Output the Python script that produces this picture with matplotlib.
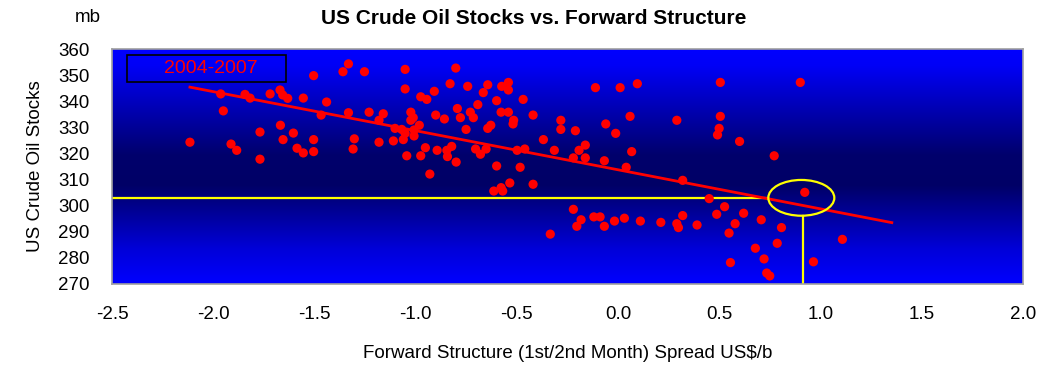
import matplotlib.pyplot as plt
import numpy as np
from matplotlib.colors import LinearSegmentedColormap
from matplotlib.patches import Ellipse, Rectangle

plt.rcParams["font.family"] = ["Liberation Sans", "DejaVu Sans"]

# Weekly observations: spread (US$/b) vs crude stocks (mb)
spread = [
    -2.115, -1.963, -1.95, -1.912, -1.884, -1.843, -1.818, -1.769, -1.769, -1.719,
    -1.67, -1.657, -1.632, -1.668, -1.655, -1.604, -1.586, -1.555, -1.555, -1.504,
    -1.504, -1.504, -1.44, -1.467, -1.359, -1.332, -1.332, -1.303, -1.309, -1.253,
    -1.23, -1.16, -1.181, -1.181, -1.11, -1.102,
    -1.052, -1.052, -1.024, -1.012, -1.024, -0.982, -1.069, -1.052, -1.008, -1.008,
    -1.061, -1.044, -0.975, -0.952, -0.93, -0.975, -0.945, -0.908, -0.901, -0.894,
    -0.858, -0.846, -0.843, -0.822, -0.8, -0.83, -0.802, -0.794, -0.779, -0.751,
    -0.743, -0.73, -0.715, -0.693, -0.666, -0.644, -0.704, -0.68, -0.652, -0.644,
    -0.629, -0.6, -0.578, -0.575, -0.542, -0.542, -0.542, -0.516, -0.519, -0.469,
    -0.42, -0.6, -0.614, -0.578, -0.57, -0.535, -0.499, -0.461, -0.484, -0.42,
    -0.369, -0.315, -0.283, -0.283, -0.211, -0.193, -0.162, -0.221, -0.162, -0.112,
    -0.061, -0.012, -0.068, 0.01, 0.059, 0.067, 0.04, 0.095, 0.29, 0.319,
    -0.335, -0.221, -0.183, -0.204, -0.12, -0.089, -0.068, -0.018, 0.031, 0.11,
    0.211, 0.29, 0.298, 0.319, 0.39, 0.45, 0.487,
    0.505, 0.9, 0.505, 0.499, 0.491, 0.6, 0.771, 0.922, 0.526, 0.62,
    0.578, 0.707, 0.807, 0.548, 0.786, 0.678, 0.721, 0.555, 0.734, 0.749,
    0.965, 1.108,
]
stocks = [
    324.3, 342.8, 336.3, 323.6, 321.2, 342.6, 341.2, 328.2, 317.8, 342.8,
    344.3, 342.4, 341.1, 330.8, 325.3, 327.8, 322.0, 320.2, 341.2, 349.8,
    325.3, 320.7, 339.7, 334.7, 351.3, 354.3, 335.6, 325.6, 321.7, 351.3,
    335.8, 335.2, 332.7, 324.3, 324.8, 329.6,
    352.2, 344.7, 335.8, 333.7, 332.7, 330.8, 329.2, 327.7, 326.7, 329.0,
    325.3, 319.1, 319.1, 322.2, 312.1, 341.7, 340.7, 343.8, 334.7, 321.2,
    333.2, 321.2, 318.8, 322.7, 316.7, 346.7, 352.7, 337.2, 333.7, 329.2,
    345.7, 335.8, 333.7, 338.7, 343.3, 346.3, 321.7, 319.7, 321.7, 329.6,
    330.8, 340.2, 335.8, 345.7, 347.2, 344.3, 335.8, 332.7, 331.3, 340.7,
    334.7, 315.2, 305.6, 306.9, 305.6, 308.7, 321.2, 321.7, 314.7, 308.2,
    325.3, 321.2, 332.7, 329.2, 328.7, 321.2, 323.2, 318.3, 318.3, 345.2,
    331.3, 327.7, 317.2, 345.2, 334.2, 320.7, 314.7, 346.7, 332.7, 309.7,
    289.1, 298.6, 294.6, 292.1, 295.7, 295.7, 292.1, 294.1, 295.2, 294.1,
    293.6, 293.1, 291.6, 296.2, 292.6, 302.7, 296.7,
    347.2, 347.2, 334.2, 329.6, 327.1, 324.6, 319.1, 305.1, 299.6, 297.1,
    293.1, 294.6, 291.6, 289.5, 285.6, 283.7, 279.6, 278.2, 274.2, 273.1,
    278.5, 287.1,
]

# Linear trend end points
trend_x = [-2.115, 1.352]
trend_y = [345.4, 293.5]

# Current level marker
now_x = 0.905
now_y = 303.0

x_ticks = [-2.5, -2.0, -1.5, -1.0, -0.5, 0.0, 0.5, 1.0, 1.5, 2.0]
y_ticks = [270, 280, 290, 300, 310, 320, 330, 340, 350, 360]

fig = plt.figure(figsize=(10.53, 3.72), dpi=100)
ax = fig.add_axes([112 / 1053, 1 - 284 / 372, 911 / 1053, 235 / 372])
ax.set_xlim(-2.5, 2.0)
ax.set_ylim(270, 360)

# vertical blue gradient background
grad_cmap = LinearSegmentedColormap.from_list(
    "bg",
    [(0.0, "#0000ff"), (0.07, "#0000f6"), (0.45, "#00006c"), (0.58, "#000066"),
     (0.85, "#0000d8"), (1.0, "#0000ff")],
)
grad = np.linspace(0, 1, 256).reshape(-1, 1)
ax.imshow(grad, cmap=grad_cmap, aspect="auto", extent=[-2.5, 2.0, 270, 360],
          origin="upper", zorder=0)

ax.plot([-2.5, now_x - 0.163], [now_y, now_y], color="#ffff00", lw=1.6, zorder=2)
ax.plot([now_x + 0.01, now_x + 0.01], [270, now_y - 6.85], color="#ffff00",
        lw=1.6, zorder=2)
ax.add_patch(Ellipse((now_x, now_y), 0.326, 13.7, fill=False,
                     edgecolor="#ffff00", lw=1.6, zorder=4))

ax.scatter(spread, stocks, s=44, color="#ff0000", edgecolors="none", zorder=3)
ax.plot(trend_x, trend_y, color="#ff0000", lw=2.0, zorder=3)

# period box
ax.add_patch(Rectangle((0.017, 0.861), 0.1745, 0.113, transform=ax.transAxes,
                       fill=False, edgecolor="black", lw=1.2, zorder=5))
ax.text(0.108, 0.917, "2004-2007", transform=ax.transAxes, color="#ff0000",
        fontsize=14, ha="center", va="center", zorder=6)

ax.set_xticks(x_ticks)
ax.set_xticklabels([f"{v:.1f}" for v in x_ticks])
ax.set_yticks(y_ticks)
ax.tick_params(axis="both", length=0, labelsize=13.5)
ax.tick_params(axis="x", pad=16)
ax.tick_params(axis="y", pad=16)
for sp in ax.spines.values():
    sp.set_color("#a0a0a0")
    sp.set_linewidth(1.2)

ax.set_xlabel("Forward Structure (1st/2nd Month) Spread US$/b", fontsize=13.5,
              labelpad=16)
ax.set_ylabel("US Crude Oil Stocks", fontsize=13.5, labelpad=10)
fig.text(534 / 1053, 1 - 18 / 372, "US Crude Oil Stocks vs. Forward Structure",
         fontsize=15, fontweight="bold", ha="center", va="center")
fig.text(88 / 1053, 1 - 18 / 372, "mb", fontsize=13.5, ha="center", va="center")

fig.savefig("out.png", dpi=100)
